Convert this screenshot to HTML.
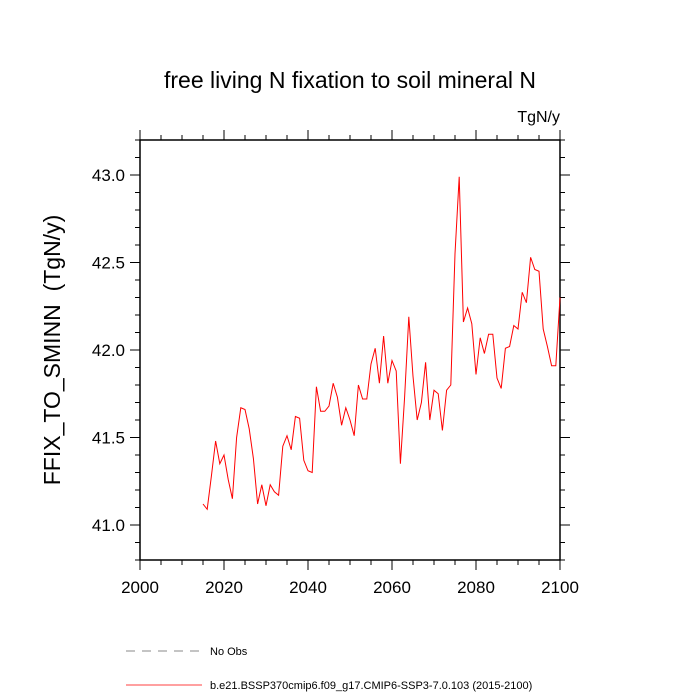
<!DOCTYPE html>
<html><head><meta charset="utf-8"><style>body{margin:0;background:#fff}svg{display:block;font-family:"Liberation Sans",sans-serif}</style></head>
<body>
<svg id="c" width="700" height="700">
<text x="350" y="88" font-size="23" text-anchor="middle">free living N fixation to soil mineral N</text>
<text x="560" y="122" font-size="16" text-anchor="end">TgN/y</text>
<text transform="translate(60,350) rotate(-90)" font-size="23" text-anchor="middle">FFIX_TO_SMINN &#160;(TgN/y)</text>
<g id="axes"></g>
<rect x="140" y="140" width="420" height="420" fill="none" stroke="#000" stroke-width="1.5"/>
<polyline id="line" fill="none" stroke="#f00" stroke-width="1"/>
<line x1="126" y1="651" x2="202" y2="651" stroke="#888" stroke-dasharray="9,7"/>
<text x="210" y="655" font-size="11">No Obs</text>
<line x1="126" y1="685" x2="202" y2="685" stroke="#f00" stroke-width="0.8"/>
<text x="210" y="689" font-size="11">b.e21.BSSP370cmip6.f09_g17.CMIP6-SSP3-7.0.103 (2015-2100)</text>
</svg>
<script>
const startYear = 2015;
const values = [41.12,41.09,41.28,41.48,41.35,41.40,41.26,41.15,41.50,41.67,41.66,41.55,41.38,41.12,41.23,41.11,41.23,41.19,41.17,41.45,41.51,41.43,41.62,41.61,41.37,41.31,41.30,41.79,41.65,41.65,41.68,41.81,41.73,41.57,41.67,41.60,41.51,41.80,41.72,41.72,41.92,42.01,41.81,42.08,41.81,41.94,41.88,41.35,41.73,42.19,41.85,41.60,41.70,41.93,41.60,41.77,41.75,41.54,41.77,41.80,42.55,42.99,42.16,42.24,42.15,41.86,42.07,41.98,42.09,42.09,41.84,41.78,42.01,42.02,42.14,42.12,42.33,42.27,42.53,42.46,42.45,42.12,42.02,41.91,41.91,42.30];
const xTicks = [2000,2020,2040,2060,2080,2100];
const yTicks = [41.0,41.5,42.0,42.5,43.0];
const xMin=2000,xMax=2100,yMin=40.8,yMax=43.2;
const L=140,R=560,T=140,B=560;
const xs=v=>L+(v-xMin)/(xMax-xMin)*(R-L);
const ys=v=>B-(v-yMin)/(yMax-yMin)*(B-T);
const NS='http://www.w3.org/2000/svg';
const ax=document.getElementById('axes');
function ln(x1,y1,x2,y2,w,name){const e=document.createElementNS(NS,'line');e.setAttribute('x1',x1);e.setAttribute('y1',y1);e.setAttribute('x2',x2);e.setAttribute('y2',y2);e.setAttribute('stroke','#000');e.setAttribute('stroke-width',w);


ax.appendChild(e);}
function tx(x,y,s,anchor,name){const e=document.createElementNS(NS,'text');e.setAttribute('x',x);e.setAttribute('y',y);e.setAttribute('font-size','17');e.setAttribute('text-anchor',anchor);e.textContent=s;


ax.appendChild(e);}
for(let v=xMin;v<=xMax;v+=5){const x=xs(v);const maj=(v%20===0);const len=maj?10:5;ln(x,B,x,B+len,1,'x-tick');ln(x,T,x,T-len,1,'x-tick-top');}
for(let i=0;i<=24;i++){const v=yMin+i*0.1;const y=ys(v);const maj=Math.abs((v*2)-Math.round(v*2))<1e-6;const len=maj?10:5;ln(L,y,L-len,y,1,'y-tick');ln(R,y,R+len,y,1,'y-tick-right');}
xTicks.forEach(v=>tx(xs(v),593,String(v),'middle','x-tick-label'));
yTicks.forEach(v=>tx(L-15,ys(v)+6,v.toFixed(1),'end','y-tick-label'));
document.getElementById('line').setAttribute('points',values.map((v,i)=>xs(startYear+i)+','+ys(v)).join(' '));
</script>
</body></html>
